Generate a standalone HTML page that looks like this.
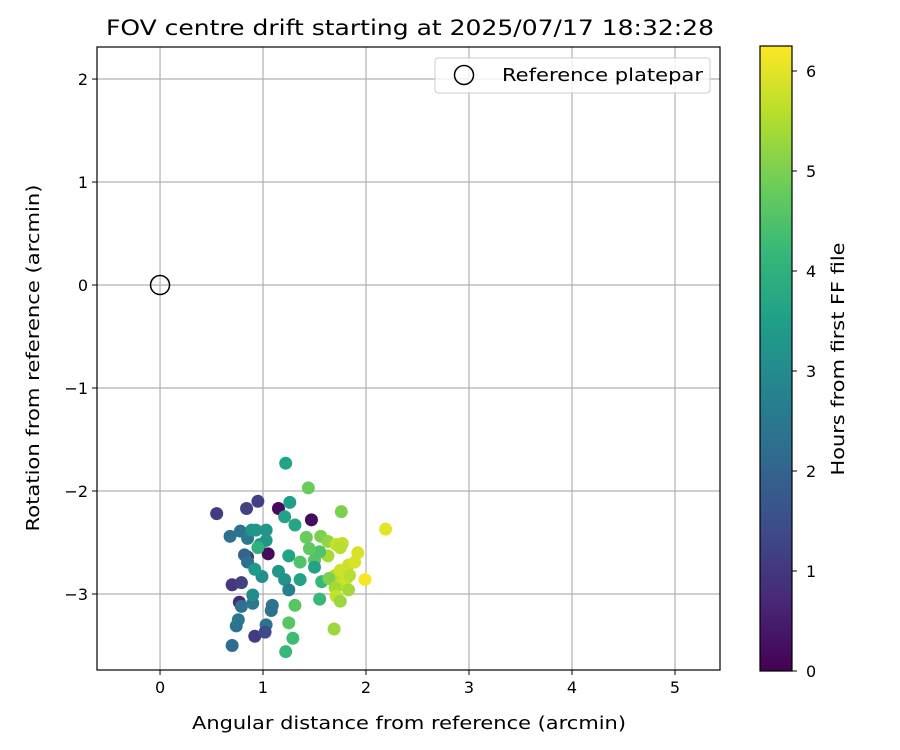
<!DOCTYPE html>
<html><head><meta charset="utf-8"><style>
body{margin:0;background:#fff;}
svg{display:block;font-family:"DejaVu Sans","Liberation Sans",sans-serif;}
</style></head><body>
<svg id="c" width="900" height="750" xmlns="http://www.w3.org/2000/svg"></svg>
<script>
const xs=[1.22,1.44,0.55,0.95,0.84,1.15,1.26,1.76,1.47,1.21,1.31,2.19,0.78,0.68,0.85,0.89,0.93,1.03,1.03,0.97,1.42,1.56,1.63,1.71,1.77,1.75,1.05,0.85,0.82,1.25,1.50,1.83,1.63,1.36,1.89,1.92,1.50,1.70,1.75,0.85,0.95,1.15,1.36,1.57,1.64,1.75,1.81,1.84,1.99,0.70,0.79,0.99,1.21,1.25,1.70,1.71,1.83,1.55,0.77,0.79,0.90,1.09,1.08,0.90,1.31,1.75,1.25,0.76,0.74,1.03,0.92,1.02,1.29,1.69,1.22,0.70,0.92,1.55,1.45];
const ys=[-1.73,-1.97,-2.22,-2.10,-2.17,-2.17,-2.11,-2.20,-2.28,-2.25,-2.33,-2.37,-2.39,-2.44,-2.46,-2.38,-2.38,-2.38,-2.48,-2.52,-2.45,-2.44,-2.49,-2.52,-2.51,-2.55,-2.61,-2.64,-2.62,-2.63,-2.67,-2.72,-2.63,-2.69,-2.69,-2.60,-2.74,-2.82,-2.77,-2.69,-2.55,-2.78,-2.86,-2.88,-2.85,-2.91,-2.85,-2.82,-2.86,-2.91,-2.89,-2.83,-2.86,-2.96,-2.94,-3.02,-2.96,-3.05,-3.08,-3.12,-3.09,-3.11,-3.16,-3.01,-3.11,-3.07,-3.28,-3.25,-3.31,-3.30,-3.41,-3.37,-3.43,-3.34,-3.56,-3.50,-2.76,-2.59,-2.56];
const hours=[3.6,4.8,1.1,1.2,1.2,0.2,3.5,5.0,0.2,3.6,3.7,6.0,2.4,2.3,2.5,3.2,3.3,3.3,3.3,3.3,4.8,5.0,5.2,5.7,5.7,5.6,0.2,1.1,2.0,3.6,4.6,5.8,5.4,4.5,5.9,5.9,3.6,5.6,5.8,2.3,4.0,3.3,3.6,4.2,5.0,5.7,5.8,5.6,6.2,1.0,1.2,3.1,3.2,2.7,5.4,5.7,5.4,4.2,0.7,2.3,2.5,2.4,2.4,3.0,4.6,5.3,4.6,2.5,2.4,2.4,1.1,1.4,4.3,5.3,4.2,2.2,3.4,4.5,4.7];
const xTicks=[0,1,2,3,4,5];
const yTicks=[-3,-2,-1,0,1,2];
const cTicks=[0,1,2,3,4,5,6];
const X0=97,X1=720,Y0=47,Y1=670,xmin=-0.612,xmax=5.437,ymin=-3.738,ymax=2.311,cmax=6.25;
const sx=v=>X0+(v-xmin)/(xmax-xmin)*(X1-X0);
const sy=v=>Y1-(v-ymin)/(ymax-ymin)*(Y1-Y0);
const CB0=46,CB1=671,sc=v=>CB1-v/cmax*(CB1-CB0);
const vir=[[68,1,84],[72,40,120],[62,74,137],[49,104,142],[38,130,142],[31,158,137],[53,183,121],[109,205,89],[180,222,44],[253,231,37]];
function cmap(t){t=Math.max(0,Math.min(1,t))*9;const i=Math.min(8,Math.floor(t)),f=t-i;const a=vir[i],b=vir[i+1];return `rgb(${a.map((v,k)=>Math.round(v+(b[k]-v)*f)).join(',')})`;}
const svg=document.getElementById('c');const NS='http://www.w3.org/2000/svg';
function mk(t,at,txt){const e=document.createElementNS(NS,t);for(const k in at)e.setAttribute(k,at[k]);if(txt!==undefined)e.textContent=txt;svg.appendChild(e);return e;}
const fmt=v=>v<0?'\u2212'+(-v):''+v;
xTicks.forEach(v=>{const x=sx(v);
let g=mk('line',{x1:x,x2:x,y1:Y0,y2:Y1,stroke:'#b0b0b0','stroke-width':1.2});


let t=mk('line',{x1:x,x2:x,y1:Y1,y2:Y1+5,stroke:'#000'});


let l=mk('text',{x:x,y:Y1+23,'text-anchor':'middle','font-size':16},fmt(v));

});
yTicks.forEach(v=>{const y=sy(v);
let g=mk('line',{x1:X0,x2:X1,y1:y,y2:y,stroke:'#b0b0b0','stroke-width':1.2});


let t=mk('line',{x1:X0-5,x2:X0,y1:y,y2:y,stroke:'#000'});


let l=mk('text',{x:X0-9,y:y+6,'text-anchor':'end','font-size':16},fmt(v));

});
xs.forEach((v,i)=>{const p=mk('circle',{cx:sx(v),cy:sy(ys[i]),r:6.5,fill:cmap(hours[i]/cmax)});

});
let ref=mk('circle',{cx:sx(0),cy:sy(0),r:9.5,fill:'none',stroke:'#000','stroke-width':1.5});


let fr=mk('rect',{x:X0,y:Y0,width:X1-X0,height:Y1-Y0,fill:'none',stroke:'#000','stroke-width':1.2});


const defs=mk('defs',{});const lg=document.createElementNS(NS,'linearGradient');lg.setAttribute('id','vg');lg.setAttribute('x1',0);lg.setAttribute('y1',1);lg.setAttribute('x2',0);lg.setAttribute('y2',0);defs.appendChild(lg);
vir.forEach((c,i)=>{const s=document.createElementNS(NS,'stop');s.setAttribute('offset',i/9);s.setAttribute('stop-color',`rgb(${c})`);lg.appendChild(s);});
let cb=mk('rect',{x:760,y:CB0,width:32,height:CB1-CB0,fill:'url(#vg)',stroke:'#000','stroke-width':1.2});


cTicks.forEach(v=>{const y=sc(v);
let t=mk('line',{x1:792,x2:797,y1:y,y2:y,stroke:'#000'});


let l=mk('text',{x:806,y:y+6,'font-size':16},''+v);

});
</script>
<script>
(function(){const svg=document.getElementById('c');const NS='http://www.w3.org/2000/svg';
function mk(t,at,txt){const e=document.createElementNS(NS,t);for(const k in at)e.setAttribute(k,at[k]);if(txt!==undefined)e.textContent=txt;svg.appendChild(e);return e;}
let lb=mk('rect',{x:435,y:58,width:275,height:35,rx:3,fill:'#fff','fill-opacity':0.8,stroke:'#ccc'});


let lc=mk('circle',{cx:464,cy:75,r:9.5,fill:'none',stroke:'#000','stroke-width':1.5});


let lt=mk('text',{x:502,y:81,'font-size':18,textLength:201,lengthAdjust:'spacingAndGlyphs'},'Reference platepar');


let ti=mk('text',{x:410,y:35,'text-anchor':'middle','font-size':21,textLength:608,lengthAdjust:'spacingAndGlyphs'},'FOV centre drift starting at 2025/07/17 18:32:28');


let xt=mk('text',{x:409,y:729,'text-anchor':'middle','font-size':18,textLength:434,lengthAdjust:'spacingAndGlyphs'},'Angular distance from reference (arcmin)');


let yt=mk('text',{x:0,y:0,'text-anchor':'middle','font-size':18,textLength:347,lengthAdjust:'spacingAndGlyphs',transform:'translate(39,358) rotate(-90)'},'Rotation from reference (arcmin)');


let ct=mk('text',{x:0,y:0,'text-anchor':'middle','font-size':18,textLength:233,lengthAdjust:'spacingAndGlyphs',transform:'translate(844,359) rotate(-90)'},'Hours from first FF file');


})();
</script>
</body></html>
